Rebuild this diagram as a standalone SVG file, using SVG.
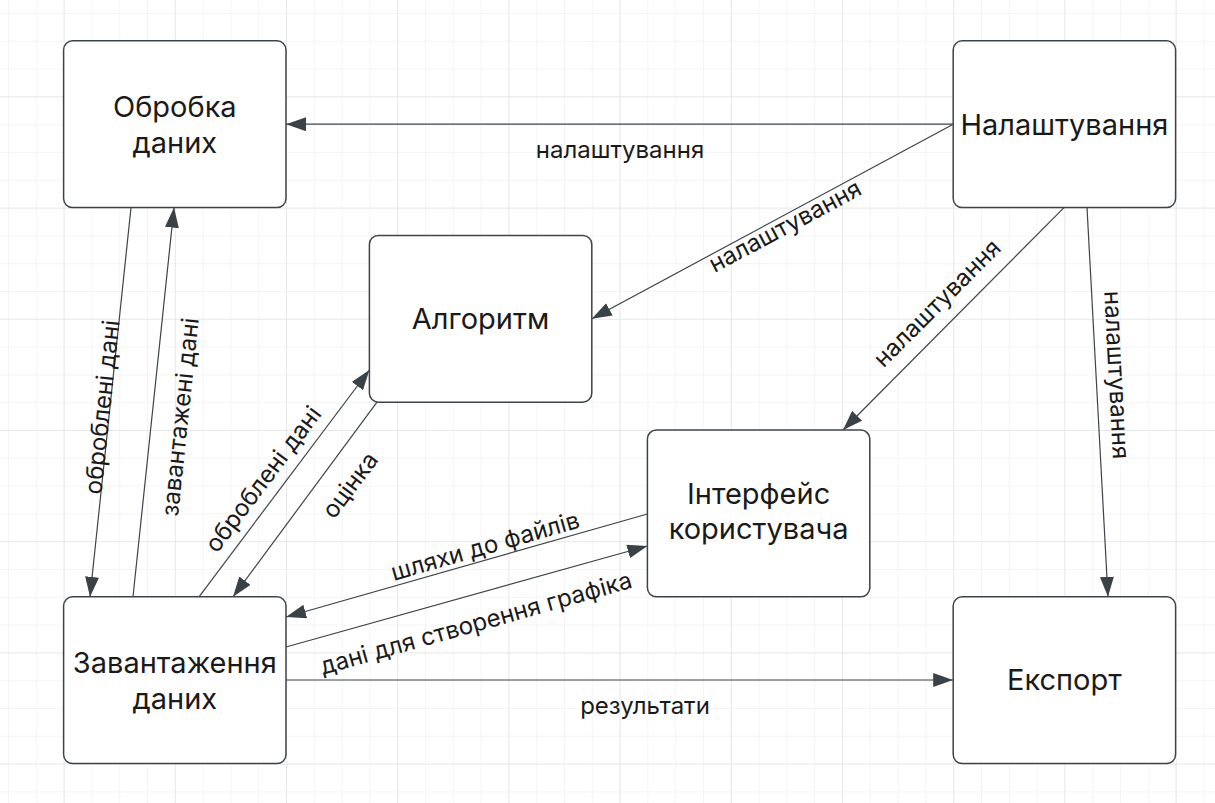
<svg xmlns="http://www.w3.org/2000/svg" width="1215" height="803" viewBox="0 0 1215 803">
<defs>
<pattern id="minor" patternUnits="userSpaceOnUse" x="8" y="13" width="27.8" height="27.8">
<path d="M0,0 H27.8 M0,0 V27.8" fill="none" stroke="#ececec" stroke-width="1"/>
</pattern>
<pattern id="major" patternUnits="userSpaceOnUse" x="63.6" y="96.4" width="111.2" height="111.2">
<path d="M0,0 H111.2 M0,0 V111.2" fill="none" stroke="#dcdcdc" stroke-width="1"/>
</pattern>
<marker id="arr" markerUnits="userSpaceOnUse" markerWidth="20" markerHeight="14" refX="20" refY="7" orient="auto">
<path d="M0,0 L20,7 L0,14 z" fill="#394247"/>
</marker>
<style>
.node rect{fill:#fff;stroke:#3d4449;stroke-width:1.5}
.node text{font-family:Inter,"Liberation Sans",Arial,sans-serif;font-size:29px;fill:#1a1a1a;text-anchor:middle}
.edge{fill:none;stroke:#3d4449;stroke-width:1.2;marker-end:url(#arr)}
.lbl{font-family:Inter,"Liberation Sans",Arial,sans-serif;font-size:24px;fill:#1a1a1a;text-anchor:middle}
</style>
</defs>
<rect width="1215" height="803" fill="#fff"/>
<rect width="1215" height="803" fill="url(#minor)"/>
<rect width="1215" height="803" fill="url(#major)"/>

<g id="connectors">
<path class="edge" d="M953.2,124.2 L286,124.2"/>
<path class="edge" d="M953.2,124.2 L591.8,318.8"/>
<path class="edge" d="M1064,207.6 L843,430"/>
<path class="edge" d="M1087,207.6 L1108,596.8"/>
<path class="edge" d="M131,207.6 L90,596.8"/>
<path class="edge" d="M133,596.8 L174,207.6"/>
<path class="edge" d="M199,596.8 L369.4,370"/>
<path class="edge" d="M377,402.2 L233,596.8"/>
<path class="edge" d="M647.4,514 L286,617"/>
<path class="edge" d="M286,647 L647.4,546"/>
<path class="edge" d="M286,680 L953.2,680"/>
<text class="lbl" transform="translate(620,150)" dy="0.35em">налаштування</text>
<text class="lbl" transform="translate(785,226) rotate(-28)" dy="0.35em">налаштування</text>
<text class="lbl" transform="translate(937,303) rotate(-45)" dy="0.35em">налаштування</text>
<text class="lbl" transform="translate(1117,375) rotate(87)" dy="0.35em">налаштування</text>
<text class="lbl" transform="translate(102,407) rotate(-84)" dy="0.35em">оброблені дані</text>
<text class="lbl" transform="translate(180,417) rotate(-84)" dy="0.35em">завантажені дані</text>
<text class="lbl" transform="translate(263,479) rotate(-53)" dy="0.35em">оброблені дані</text>
<text class="lbl" transform="translate(350,485) rotate(-53)" dy="0.35em">оцінка</text>
<text class="lbl" transform="translate(485,546) rotate(-16)" dy="0.35em">шляхи до файлів</text>
<text class="lbl" transform="translate(476,623) rotate(-15.7)" dy="0.35em">дані для створення графіка</text>
<text class="lbl" transform="translate(645,706)" dy="0.35em">результати</text>
</g>

<g id="obrobka" class="node">
<rect x="63.6" y="40.8" width="222.4" height="166.8" rx="9"/>
<text x="174.8" y="117">Обробка</text>
<text x="174.8" y="153">даних</text>
</g>
<g id="nalashtuvannia" class="node">
<rect x="953.2" y="40.8" width="222.4" height="166.8" rx="9"/>
<text x="1064.4" y="135">Налаштування</text>
</g>
<g id="alhorytm" class="node">
<rect x="369.4" y="235.4" width="222.4" height="166.8" rx="9"/>
<text x="480.6" y="329">Алгоритм</text>
</g>
<g id="interfeis" class="node">
<rect x="647.4" y="430" width="222.4" height="166.8" rx="9"/>
<text x="758.6" y="504">Інтерфейс</text>
<text x="758.6" y="539">користувача</text>
</g>
<g id="zavantazhennia" class="node">
<rect x="63.6" y="596.8" width="222.4" height="166.8" rx="9"/>
<text x="174.8" y="673">Завантаження</text>
<text x="174.8" y="709">даних</text>
</g>
<g id="eksport" class="node">
<rect x="953.2" y="596.8" width="222.4" height="166.8" rx="9"/>
<text x="1064.4" y="690">Експорт</text>
</g>
</svg>
